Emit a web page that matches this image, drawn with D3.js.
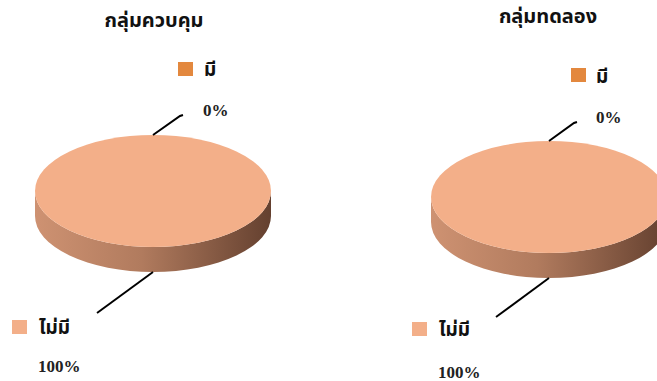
<!DOCTYPE html>
<html>
<head>
<meta charset="utf-8">
<script src="https://cdn.jsdelivr.net/npm/d3@7"></script>
<style>
  body { margin: 0; background: #fff; }
  svg { display: block; }
</style>
</head>
<body>
<div class="container"></div>
<script>
// data
const categories = ['มี', 'ไม่มี']
const titles = ['กลุ่มควบคุม', 'กลุ่มทดลอง']
const controlValues = [0, 100]
const experimentValues = [0, 100]
const seriesList = [controlValues, experimentValues]
const colors = ['#E3883E', '#F3AF89']

const W = 657, H = 381
const svg = d3.select('.container')
    .append('svg')
    .attr('width', W)
    .attr('height', H)

// side gradient
const defs = svg.append('defs')
const grad = defs.append('linearGradient')
    .attr('id', 'side')
    .attr('x1', '0%').attr('x2', '100%')
    .attr('y1', '0%').attr('y2', '0%')
grad.append('stop').attr('offset', '0%').attr('stop-color', '#CE9272')
grad.append('stop').attr('offset', '45%').attr('stop-color', '#B17B5E')
grad.append('stop').attr('offset', '100%').attr('stop-color', '#64402F')

const thaiFont = '"Noto Sans Thai", "Noto Serif Thai", "Loma", "Garuda", "Noto Sans", sans-serif'
const numFont = '"Liberation Serif", "DejaVu Serif", serif'

// layout for each pie (positions only)
const layouts = [
    {cx: 153, cy: 191, titleX: 154, titleY: 27,
     legend: [{x: 178, y: 62, tx: 204, ty: 76}, {x: 12, y: 320, tx: 39, ty: 334}],
     lab0: {x: 203, y: 116, bx: 30, by: -20}, lab1: {x: 38, y: 372, ex: 97, ey: 313}},
    {cx: 549, cy: 197, titleX: 548, titleY: 23,
     legend: [{x: 571, y: 68, tx: 596, ty: 83}, {x: 412, y: 322, tx: 439, ty: 336}],
     lab0: {x: 596, y: 123, bx: 28, by: -19}, lab1: {x: 438, y: 378, ex: 496, ey: 317}}
]
const rx = 118, ry = 56, depth = 25

const pie = d3.pie().sort(null).startAngle(0).endAngle(Math.PI * 2)

seriesList.forEach((values, k) => {
    const L = layouts[k]
    const g = svg.append('g')
    const arcs = pie(values)

    // title
    g.append('text')
        .attr('x', L.titleX).attr('y', L.titleY)
        .attr('text-anchor', 'middle')
        .style('font-family', thaiFont)
        .style('font-weight', 'bold')
        .style('font-size', '20px')
        .attr('fill', '#111')
        .text(titles[k])

    // side of the pie (front half)
    const sp = `M${L.cx - rx},${L.cy} L${L.cx - rx},${L.cy + depth}
        A${rx},${ry} 0 0 0 ${L.cx + rx},${L.cy + depth}
        L${L.cx + rx},${L.cy} A${rx},${ry} 0 0 1 ${L.cx - rx},${L.cy} Z`
    g.append('path').attr('d', sp).attr('fill', 'url(#side)')

    // top face: draw arcs in a circle space, squashed vertically
    const arcGen = d3.arc().innerRadius(0).outerRadius(rx)
    g.append('g')
        .attr('transform', `translate(${L.cx},${L.cy}) scale(1,${ry / rx})`)
        .selectAll('path')
        .data(arcs)
        .join('path')
        .attr('d', arcGen)
        .attr('fill', (d, i) => colors[i])

    // leader lines from slice mid-angles
    const pt = (a, front) => [L.cx + rx * Math.sin(a),
        L.cy - ry * Math.cos(a) + (front && Math.cos(a) < 0 ? depth : 0)]

    const a0 = (arcs[0].startAngle + arcs[0].endAngle) / 2
    const p0 = pt(a0, false)
    g.append('path')
        .attr('d', `M${p0[0]},${p0[1]} L${p0[0] + L.lab0.bx - 3},${p0[1] + L.lab0.by + 1} L${p0[0] + L.lab0.bx},${p0[1] + L.lab0.by}`)
        .attr('fill', 'none').attr('stroke', '#000').attr('stroke-width', 2)

    const a1 = (arcs[1].startAngle + arcs[1].endAngle) / 2
    const p1 = pt(a1, true)
    g.append('line')
        .attr('x1', p1[0]).attr('y1', p1[1])
        .attr('x2', L.lab1.ex).attr('y2', L.lab1.ey)
        .attr('stroke', '#000').attr('stroke-width', 2)

    // percent labels
    const total = d3.sum(values)
    const fmt = v => Math.round(v / total * 100) + '%'
    g.append('text')
        .attr('x', L.lab0.x).attr('y', L.lab0.y)
        .style('font-family', numFont).style('font-weight', 'bold').style('font-size', '17px')
        .attr('fill', '#222')
        .text(fmt(values[0]))
    g.append('text')
        .attr('x', L.lab1.x).attr('y', L.lab1.y)
        .style('font-family', numFont).style('font-weight', 'bold').style('font-size', '17px')
        .attr('fill', '#222')
        .text(fmt(values[1]))

    // legend entries
    categories.forEach((c, i) => {
        const lg = L.legend[i]
        g.append('rect')
            .attr('x', lg.x).attr('y', lg.y)
            .attr('width', 15).attr('height', 14)
            .attr('fill', colors[i])
        g.append('text')
            .attr('x', lg.tx).attr('y', lg.ty)
            .style('font-family', thaiFont).style('font-weight', 'bold').style('font-size', '19px')
            .attr('fill', '#111')
            .text(c)
    })
})
</script>
</body>
</html>
